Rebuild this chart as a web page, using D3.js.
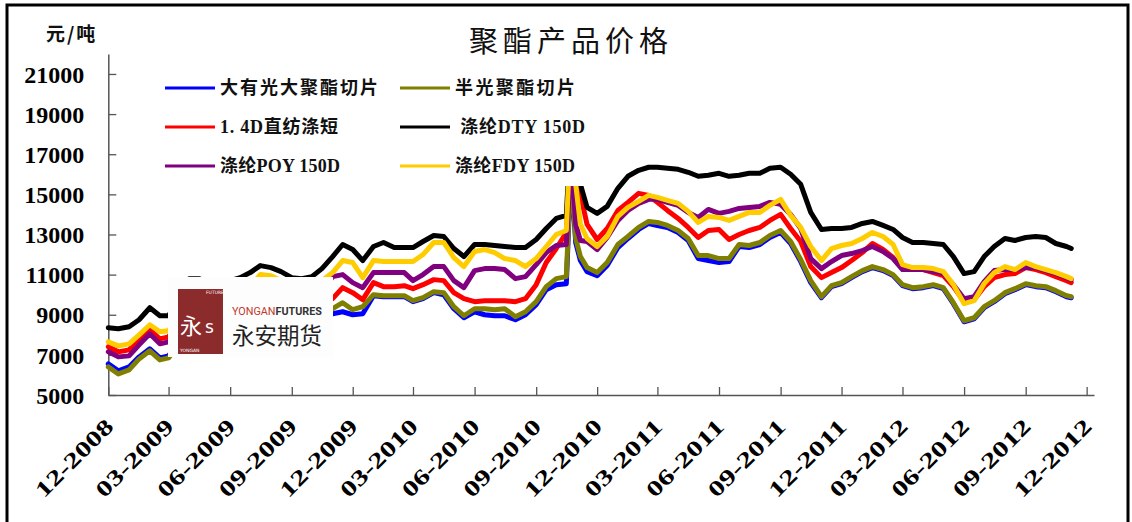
<!DOCTYPE html>
<html><head><meta charset="utf-8">
<script src="https://cdn.jsdelivr.net/npm/d3@7"></script>
<style>
html,body{margin:0;padding:0;background:#fff;}
svg{display:block;}
</style></head>
<body><svg id="chart" width="1132" height="522"></svg>
<script>
const dates = ["2008-12-01","2008-12-16","2009-01-01","2009-01-16","2009-02-01","2009-02-16","2009-03-01","2009-03-16","2009-04-01","2009-04-16","2009-05-01","2009-05-16","2009-06-01","2009-06-16","2009-07-01","2009-07-16","2009-08-01","2009-08-16","2009-09-01","2009-09-16","2009-10-01","2009-10-16","2009-11-01","2009-11-16","2009-12-01","2009-12-16","2010-01-01","2010-01-16","2010-02-01","2010-02-16","2010-03-01","2010-03-16","2010-04-01","2010-04-16","2010-05-01","2010-05-16","2010-06-01","2010-06-16","2010-07-01","2010-07-16","2010-08-01","2010-08-16","2010-09-01","2010-09-16","2010-10-01","2010-10-16","2010-10-23","2010-10-30","2010-11-06","2010-11-16","2010-12-01","2010-12-16","2011-01-01","2011-01-16","2011-02-01","2011-02-16","2011-03-01","2011-03-16","2011-04-01","2011-04-16","2011-05-01","2011-05-16","2011-06-01","2011-06-16","2011-07-01","2011-07-16","2011-08-01","2011-08-16","2011-09-01","2011-09-16","2011-10-01","2011-10-16","2011-11-01","2011-11-16","2011-12-01","2011-12-16","2012-01-01","2012-01-16","2012-02-01","2012-02-16","2012-03-01","2012-03-16","2012-04-01","2012-04-16","2012-05-01","2012-05-16","2012-06-01","2012-06-16","2012-07-01","2012-07-16","2012-08-01","2012-08-16","2012-09-01","2012-09-16","2012-10-01","2012-10-16","2012-11-01","2012-11-08"];

const bigBrightChip = [6550,6200,6400,6900,7300,6850,6950,7600,8400,8400,8300,8200,8400,8600,8800,9100,9000,8800,8500,8500,8600,8750,9050,9150,9000,9050,9950,9900,9900,9900,9650,9800,10100,10000,9300,8850,9150,9000,8950,8950,8750,9000,9500,10250,10500,10550,16300,12600,11700,11150,10950,11450,12350,12800,13250,13550,13450,13350,13100,12700,11800,11700,11600,11650,12400,12350,12500,12850,13100,12550,11650,10600,9850,10400,10550,10850,11150,11350,11200,10950,10450,10300,10350,10450,10300,9550,8650,8800,9350,9650,10050,10250,10500,10400,10350,10150,9900,9850];
const semiDullChip = [6400,6050,6250,6800,7200,6750,6850,7500,8300,8300,8200,8100,8300,8500,8700,9000,8900,8700,8400,8400,8500,8800,9300,9600,9250,9400,10000,9950,9950,9950,9700,9850,10150,10100,9400,8950,9300,9300,9250,9300,8900,9150,9650,10400,10800,10900,16500,12800,11900,11350,11100,11600,12500,12900,13350,13650,13600,13450,13200,12800,11950,11950,11800,11800,12500,12450,12600,12950,13200,12650,11750,10700,9900,10450,10600,10900,11200,11400,11250,11000,10500,10350,10400,10500,10350,9600,8700,8850,9400,9700,10100,10300,10550,10450,10400,10200,9950,9900];
const psf14D = [7400,7150,7250,7750,8250,7800,7900,8600,9500,9500,9300,9200,9400,9600,9800,10200,10100,9900,9600,9500,9500,9600,9800,10350,10100,9750,10600,10400,10400,10450,10300,10500,10750,10700,10100,9800,9650,9700,9700,9700,9650,9800,10500,11600,12300,13100,17500,16500,15000,13500,12750,13300,14200,14600,15050,14950,14600,14200,13800,13350,12850,13200,13250,12750,13000,13200,13350,13700,14000,13300,12650,11400,10850,11100,11350,11700,12100,12550,12250,11850,11300,11250,11250,11100,10950,10400,9650,9750,10400,10850,11000,11050,11350,11250,11100,10900,10700,10600];
const dty150D = [8350,8300,8400,8750,9350,8950,8950,9800,10800,10800,10500,10400,10700,10850,11100,11450,11350,11150,10850,10800,10900,11300,11900,12500,12250,11700,12400,12600,12350,12350,12350,12650,12950,12900,12300,11900,12500,12500,12450,12400,12350,12350,12750,13300,13800,13950,18500,17500,15500,14350,14050,14400,15300,15900,16200,16350,16350,16300,16250,16100,15900,15950,16050,15900,15950,16050,16050,16300,16350,16000,15500,14100,13250,13300,13300,13350,13550,13650,13450,13250,12850,12600,12600,12550,12500,11900,11050,11150,11900,12400,12800,12700,12850,12900,12850,12550,12400,12300];
const poy150D = [7150,6900,6950,7500,8050,7550,7650,8400,9300,9300,9100,9000,9300,9500,9700,10100,10000,9800,9500,9400,9500,10100,10900,11000,10600,10350,11100,11100,11100,11100,10700,11000,11400,11400,10700,10350,11200,11300,11300,11250,10800,10900,11500,12100,12450,12500,17000,13500,12700,12650,12250,12850,13700,14200,14550,14750,14750,14600,14450,14100,13850,14250,14050,14150,14300,14350,14400,14600,14500,14000,13300,11800,11300,11650,11950,12050,12200,12400,12150,11800,11250,11250,11250,11150,11050,10500,9800,9900,10650,11200,11250,11250,11350,11350,11200,11050,10850,10750];
const fdy150D = [7650,7450,7550,8000,8500,8150,8200,9000,10000,10000,9800,9700,10000,10200,10400,11000,10950,10700,10300,10200,10300,10700,11100,11700,11600,10850,11700,11650,11650,11650,11650,12000,12600,12600,11850,11400,12150,12250,12100,11800,11700,11400,11800,12400,13000,13200,18500,15500,13500,12800,12400,12900,13900,14350,14650,14950,14850,14700,14550,14150,13600,13900,13850,13700,13900,14100,14100,14450,14750,13950,13350,12400,11700,12300,12450,12550,12800,13100,12900,12500,11500,11350,11350,11300,11150,10500,9550,9700,10550,11100,11400,11250,11600,11400,11250,11100,10900,10800];

const seriesNames = ["大有光大聚酯切片","半光聚酯切片","1. 4D直纺涤短"," 涤纶DTY 150D","涤纶POY 150D","涤纶FDY 150D"];
const seriesColors = ["#0000FF","#808000","#FF0000","#000000","#800080","#FFCC00"];
const seriesValues = [bigBrightChip, semiDullChip, psf14D, dty150D, poy150D, fdy150D];
const xTickLabels = ["12-2008","03-2009","06-2009","09-2009","12-2009","03-2010","06-2010","09-2010","12-2010","03-2011","06-2011","09-2011","12-2011","03-2012","06-2012","09-2012","12-2012"];
const yTicks = [5000,7000,9000,11000,13000,15000,17000,19000,21000];
const titleText = "聚酯产品价格";
const unitText = "元/吨";

const svg = d3.select("#chart");
const parse = d3.timeParse("%Y-%m-%d");
const parseTick = d3.timeParse("%m-%Y");
const dd = dates.map(parse);

const x = d3.scaleTime().domain([new Date(2008,11,1), new Date(2012,11,12)]).range([108.3, 1094]);
const y = d3.scaleLinear().domain([5000, 22000]).range([395, 53.9]);

// frame
svg.append("rect").attr("x",7).attr("y",5).attr("width",1121).attr("height",530)
  .attr("fill","none").attr("stroke","#000").attr("stroke-width",3);

// title
svg.append("text").attr("x",571).attr("y",52).attr("text-anchor","middle")
  .attr("font-family","'Noto Sans CJK SC'").attr("font-size",29).attr("letter-spacing",5)
  .attr("fill","#111").text(titleText);
svg.append("text").attr("x",46).attr("y",41)
  .attr("font-family","'Noto Sans CJK SC'").attr("font-weight",700).attr("font-size",19)
  .attr("letter-spacing",2).attr("fill","#111").text(unitText);

// axes
const yAxis = d3.axisLeft(y).tickValues(yTicks).tickSizeInner(-8).tickSizeOuter(0).tickPadding(24).tickFormat(d3.format("d"));
const gy = svg.append("g").attr("transform","translate(108.3,0)").call(yAxis);
gy.select(".domain").attr("stroke","#555").attr("stroke-width",1.5);
gy.selectAll(".tick line").attr("stroke","#555").attr("stroke-width",1.3);
gy.selectAll("text").attr("font-family","'Liberation Serif'").attr("font-weight",700)
  .attr("font-size",24).attr("fill","#000").attr("dy","0.34em");

const xAxis = d3.axisBottom(x).tickValues(xTickLabels.map(parseTick)).tickSizeInner(-8).tickSizeOuter(0)
  .tickFormat((d,i)=>xTickLabels[i]);
const gx = svg.append("g").attr("transform","translate(0,395)").call(xAxis);
gx.select(".domain").attr("stroke","#555").attr("stroke-width",1.5);
gx.selectAll(".tick line").attr("stroke","#555").attr("stroke-width",1.3);
gx.selectAll("text").attr("font-family","'Liberation Serif'").attr("font-weight",700)
  .attr("font-size",22).attr("fill","#000")
  .attr("text-anchor","end").attr("dy",0).attr("y",0)
  .attr("textLength",100).attr("lengthAdjust","spacingAndGlyphs")
  .attr("transform","translate(6,33) rotate(-45)");

// lines
const line = d3.line().x((d,i)=>x(dd[i])).y(d=>y(d));
seriesValues.forEach((vals,k)=>{
  svg.append("path").datum(vals).attr("d",line).attr("fill","none")
    .attr("stroke",seriesColors[k]).attr("stroke-width",5)
    .attr("stroke-linejoin","round").attr("stroke-linecap","round");
});

// legend
const lg = svg.append("g");
lg.append("rect").attr("x",158).attr("y",76).attr("width",429).attr("height",110).attr("fill","#fff");
const legX = [165, 400], legY = [88, 127, 166];
const legTextLen = [158,120,118,130,120,120];
seriesNames.forEach((name,k)=>{
  const cx = legX[k%2], cy = legY[Math.floor(k/2)];
  lg.append("line").attr("x1",cx).attr("x2",cx+50).attr("y1",cy).attr("y2",cy)
    .attr("stroke",seriesColors[k]).attr("stroke-width",3);
  lg.append("text").attr("x",cx+55).attr("y",cy).attr("dy","0.36em")
    .attr("font-family","'Liberation Serif','Noto Sans CJK SC'").attr("font-weight",700)
    .attr("font-size",18).attr("xml:space","preserve")
    .attr("textLength",legTextLen[k]).attr("lengthAdjust","spacing")
    .style("white-space","pre").attr("fill","#111").text(name);
});

// logo
const logo = svg.append("g");
logo.append("rect").attr("x",168).attr("y",277).attr("width",165).attr("height",80).attr("fill","#fdfdfd");
logo.append("rect").attr("x",178).attr("y",289).attr("width",45).attr("height",65).attr("fill","#8B2B2B");
logo.append("text").attr("x",180).attr("y",334).attr("font-family","'Noto Sans CJK SC'").attr("font-size",22)
  .attr("fill","#fff").text("永");
logo.append("text").attr("x",205).attr("y",333).attr("font-family","'DejaVu Sans'").attr("font-size",17)
  .attr("fill","#fff").text("s");
logo.append("text").attr("x",206).attr("y",294).attr("font-family","'DejaVu Sans'").attr("font-size",4.5)
  .attr("fill","#fff").text("FUTURES");
logo.append("text").attr("x",180).attr("y",352).attr("font-family","'DejaVu Sans'").attr("font-size",4.5)
  .attr("fill","#fff").text("YONGAN");
const yt = logo.append("text").attr("x",232).attr("y",315).attr("font-family","'Roboto'").attr("font-size",10.5)
  .attr("textLength",90).attr("lengthAdjust","spacingAndGlyphs");
yt.append("tspan").attr("fill","#C0392B").text("YONGAN");
yt.append("tspan").attr("fill","#333").attr("font-weight",700).text("FUTURES");
logo.append("text").attr("x",232).attr("y",344).attr("font-family","'Noto Sans CJK SC'").attr("font-size",22.5)
  .attr("fill","#222").attr("textLength",90).text("永安期货");
</script></body></html>
